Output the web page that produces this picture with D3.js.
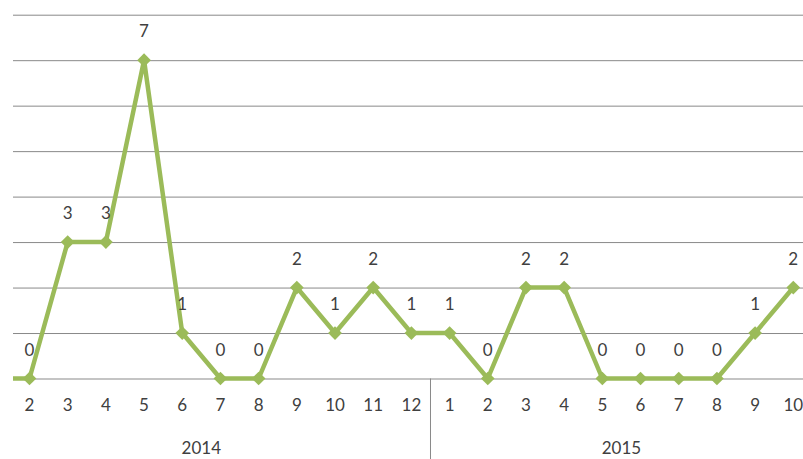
<!DOCTYPE html>
<html>
<head>
<meta charset="utf-8">
<script src="https://cdn.jsdelivr.net/npm/d3@7"></script>
<style>
  body { margin:0; background:#fff; }
  text { font-family: Lato, "Open Sans", sans-serif; fill:#404040; }
</style>
</head>
<body>
<div id="chart"></div>
<script>
// data
var years = ["2014", "2015"]
var months2014 = [1, 2, 3, 4, 5, 6, 7, 8, 9, 10, 11, 12]
var months2015 = [1, 2, 3, 4, 5, 6, 7, 8, 9, 10]
var values2014 = [0, 0, 3, 3, 7, 1, 0, 0, 2, 1, 2, 1]
var values2015 = [1, 0, 2, 2, 0, 0, 0, 0, 1, 2]
var yTicks = [0, 1, 2, 3, 4, 5, 6, 7, 8]

var W = 803, H = 459
var rows = months2014.map((m, i) => ({year:years[0], month:m, v:values2014[i]}))
  .concat(months2015.map((m, i) => ({year:years[1], month:m, v:values2015[i]})))
rows.forEach(d => d.key = d.year + "-" + d.month)

var plot = {left:13, right:W, top:0, base:378.5}

var x = d3.scaleBand()
    .domain(rows.map(d => d.key))
    .range([-27.8, 812.4])
var cx = k => x(k) + x.bandwidth() / 2
var y = d3.scaleLinear().domain([0, 8]).range([plot.base, 14.7])

// the chart is scrolled: the first month sits left of the view
var shown = rows.filter(d => cx(d.key) >= plot.left)

var svg = d3.select("#chart").append("svg")
    .attr("width", W).attr("height", H)

svg.append("clipPath").attr("id", "clip")
  .append("rect").attr("x", plot.left).attr("y", 0)
  .attr("width", W - plot.left).attr("height", H)

// horizontal gridlines
svg.append("g")
    .attr("class", "grid")
    .attr("transform", `translate(${plot.left},0)`)
    .call(d3.axisRight(y).tickValues(yTicks).tickSize(W - plot.left).tickFormat(""))
    .call(g => g.select(".domain").remove())
    .selectAll("line").attr("stroke", "#898989").attr("stroke-width", 1)

// category axis
var xa = svg.append("g")
    .attr("transform", `translate(0,${plot.base})`)
    .call(d3.axisBottom(x).tickValues(shown.map(d => d.key))
      .tickSize(0).tickPadding(20).tickFormat(k => k.split("-")[1]))
xa.select(".domain").remove()
xa.selectAll("text").attr("font-size", 17).style("font-family", "Lato, sans-serif")

// group separators + year labels
var firstOf = years.map(yr => rows.find(d => d.year === yr))
var lastOf = years.map(yr => rows.filter(d => d.year === yr).slice(-1)[0])
svg.selectAll("line.sep")
  .data(firstOf.slice(1))
  .enter().append("line")
    .attr("class", "sep")
    .attr("x1", d => x(d.key)).attr("x2", d => x(d.key))
    .attr("y1", plot.base).attr("y2", H)
    .attr("stroke", "#898989")

svg.selectAll("text.year")
  .data(years)
  .enter().append("text")
    .attr("class", "year")
    .attr("x", (d, i) => (cx(firstOf[i].key) + cx(lastOf[i].key)) / 2)
    .attr("y", 450)
    .attr("text-anchor", "middle")
    .attr("dominant-baseline", "middle")
    .attr("font-size", 17)
    .text(d => d)

// series
var gS = svg.append("g").attr("clip-path", "url(#clip)")
var line = d3.line().x(d => cx(d.key)).y(d => y(d.v))

gS.append("path")
    .datum(rows)
    .attr("fill", "none")
    .attr("stroke", "#9BBB59")
    .attr("stroke-width", 4.5)
    .attr("stroke-linejoin", "round")
    .attr("d", line)

var symbol = d3.symbol().type(d3.symbolDiamond2).size(120)
gS.selectAll("path.pt")
  .data(rows)
  .enter().append("path")
    .attr("class", "pt")
    .attr("transform", d => `translate(${cx(d.key)},${y(d.v)})`)
    .attr("d", symbol)
    .attr("fill", "#9BBB59")

svg.selectAll("text.lbl")
  .data(shown)
  .enter().append("text")
    .attr("class", "lbl")
    .attr("x", d => cx(d.key))
    .attr("y", d => y(d.v) - 27)
    .attr("text-anchor", "middle")
    .attr("dominant-baseline", "middle")
    .attr("font-size", 17)
    .text(d => d.v)
</script>
</body>
</html>
